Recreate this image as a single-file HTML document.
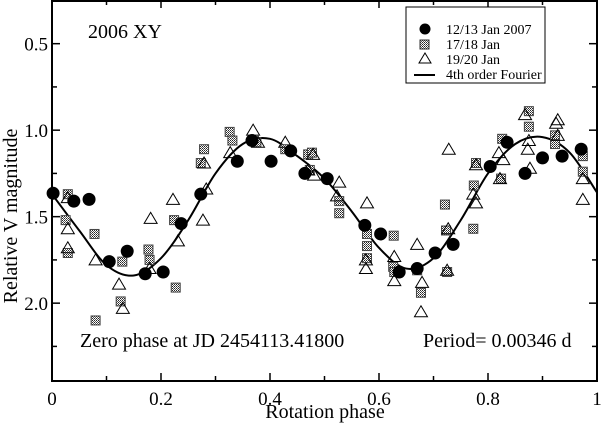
<!DOCTYPE html>
<html><head><meta charset="utf-8"><style>
body{margin:0;background:#fff}
svg{display:block;font-family:"Liberation Serif",serif}
</style></head><body>
<svg id="chart" width="601" height="424">
<defs>
<pattern id="stip" width="2" height="2" patternUnits="userSpaceOnUse">
<rect width="2" height="2" fill="#fff"/><rect width="1" height="1" fill="#222"/><rect x="1" y="1" width="1" height="1" fill="#555"/>
</pattern>
</defs>
<g id="plot"></g>
<text x="88" y="38" font-size="20">2006 XY</text>
<text x="80" y="347" font-size="20">Zero phase at JD 2454113.41800</text>
<text x="423" y="347" font-size="20">Period= 0.00346 d</text>
<text x="325" y="418" font-size="20" text-anchor="middle">Rotation phase</text>
<text transform="translate(17,216) rotate(-90)" font-size="20" text-anchor="middle">Relative V magnitude</text>
<g>
<rect x="406" y="7" width="139" height="76" fill="#fff" stroke="#000" stroke-width="1"/>
<circle cx="425" cy="29" r="5.5" fill="#000"/>
<text x="446" y="34" font-size="14">12/13 Jan 2007</text>
<rect x="420" y="40" width="9" height="9" fill="url(#stip)" stroke="#333"/>
<text x="446" y="49" font-size="14">17/18 Jan</text>
<path d="M425,53 L431,63 L419,63 Z" fill="none" stroke="#000"/>
<text x="446" y="64" font-size="14">19/20 Jan</text>
<line x1="414" y1="75" x2="435" y2="75" stroke="#000" stroke-width="2"/>
<text x="446" y="79" font-size="14">4th order Fourier</text>
</g>
</svg>
<script>
const circPhase=[0.002,0.04,0.068,0.105,0.138,0.171,0.204,0.237,0.273,0.34,0.367,0.402,0.438,0.464,0.505,0.574,0.603,0.637,0.67,0.703,0.736,0.804,0.835,0.868,0.90,0.936,0.971];
const circMag=[1.365,1.41,1.40,1.76,1.70,1.83,1.82,1.54,1.37,1.18,1.06,1.18,1.12,1.25,1.28,1.55,1.60,1.82,1.80,1.71,1.66,1.21,1.07,1.25,1.16,1.15,1.11];
const sqPhase=[0.029,0.025,0.029,0.078,0.08,0.129,0.126,0.177,0.179,0.224,0.227,0.279,0.273,0.326,0.331,0.375,0.428,0.47,0.477,0.473,0.527,0.527,0.578,0.578,0.578,0.627,0.626,0.628,0.67,0.677,0.721,0.723,0.725,0.773,0.774,0.778,0.826,0.824,0.875,0.875,0.923,0.923,0.974,0.974];
const sqMag=[1.37,1.52,1.71,1.60,2.10,1.76,1.99,1.69,1.75,1.52,1.91,1.11,1.19,1.01,1.06,1.07,1.11,1.14,1.13,1.23,1.41,1.48,1.60,1.67,1.74,1.61,1.79,1.82,1.81,1.94,1.43,1.58,1.82,1.57,1.32,1.19,1.05,1.28,0.89,0.98,1.03,1.08,1.15,1.24];
const triPhase=[0.029,0.029,0.029,0.08,0.123,0.13,0.181,0.179,0.222,0.231,0.279,0.283,0.277,0.327,0.369,0.378,0.428,0.47,0.479,0.481,0.527,0.523,0.578,0.576,0.576,0.628,0.628,0.67,0.679,0.677,0.728,0.727,0.725,0.773,0.778,0.778,0.82,0.828,0.822,0.868,0.873,0.875,0.877,0.925,0.928,0.928,0.974,0.974];
const triMag=[1.39,1.57,1.68,1.75,1.89,2.03,1.51,1.80,1.40,1.64,1.19,1.34,1.52,1.13,1.00,1.07,1.07,1.23,1.14,1.26,1.30,1.38,1.42,1.75,1.80,1.73,1.87,1.66,1.88,2.05,1.11,1.57,1.81,1.37,1.42,1.20,1.13,1.17,1.28,0.91,1.11,1.06,1.22,0.96,0.94,1.03,1.28,1.40];
const fitPhase=[0,0.05,0.1,0.15,0.2,0.25,0.3,0.35,0.4,0.45,0.5,0.55,0.6,0.65,0.7,0.75,0.8,0.85,0.9,0.95,1.0];
const fitMag=[1.37,1.58,1.78,1.84,1.74,1.52,1.25,1.08,1.05,1.15,1.28,1.47,1.68,1.80,1.74,1.52,1.25,1.08,1.04,1.13,1.36];
const xTicks=[0,0.2,0.4,0.6,0.8,1];
const xTickLabels=["0","0.2","0.4","0.6","0.8","1"];
const yTicks=[0.5,1.0,1.5,2.0];
const yTickLabels=["0.5","1.0","1.5","2.0"];

const L=52,R=597,T=0,B=381,XMIN=0,XMAX=1,YMIN=0.2475,YMAX=2.45;
const sx=v=>L+(v-XMIN)/(XMAX-XMIN)*(R-L);
const sy=v=>T+(v-YMIN)/(YMAX-YMIN)*(B-T);
const NS='http://www.w3.org/2000/svg';
const g=document.getElementById('plot');
function mk(tag,attrs){const e=document.createElementNS(NS,tag);for(const k in attrs)e.setAttribute(k,attrs[k]);g.appendChild(e);return e;}

let fr=mk('rect',{x:L,y:T+1,width:R-L,height:B-T-1,fill:'none',stroke:'#000','stroke-width':2});


for(let i=0;i<=10;i++){const v=i/10,x=sx(v),len=(i%2===0)?8:5;
 let t1=mk('line',{x1:x,y1:B,x2:x,y2:B-len,stroke:'#000','stroke-width':1.5});
 
 
 let t2=mk('line',{x1:x,y1:T,x2:x,y2:T+len,stroke:'#000','stroke-width':1.5});
 
 }
xTicks.forEach((v,i)=>{let t=mk('text',{x:sx(v),y:405,'font-size':19,'text-anchor':'middle'});t.textContent=xTickLabels[i];
 
 });
for(let v=0.25;v<=2.26;v+=0.25){const y=sy(v),maj=Math.abs(v*2-Math.round(v*2))<1e-6,len=maj?8:5;
 let t1=mk('line',{x1:L,y1:y,x2:L+len,y2:y,stroke:'#000','stroke-width':1.5});
 
 
 let t2=mk('line',{x1:R,y1:y,x2:R-len,y2:y,stroke:'#000','stroke-width':1.5});
 
 }
yTicks.forEach((v,i)=>{let t=mk('text',{x:48,y:sy(v)+7,'font-size':19,'text-anchor':'end'});t.textContent=yTickLabels[i];
 
 });

const pts=fitPhase.map((p,i)=>[sx(p),sy(fitMag[i])]);
let d='M'+pts[0][0]+','+pts[0][1];
for(let i=0;i<pts.length-1;i++){const p0=pts[Math.max(0,i-1)],p1=pts[i],p2=pts[i+1],p3=pts[Math.min(pts.length-1,i+2)];
 d+=' C'+(p1[0]+(p2[0]-p0[0])/6)+','+(p1[1]+(p2[1]-p0[1])/6)+' '+(p2[0]-(p3[0]-p1[0])/6)+','+(p2[1]-(p3[1]-p1[1])/6)+' '+p2[0]+','+p2[1];}
let fit=mk('path',{d:d,fill:'none',stroke:'#000','stroke-width':2});



sqPhase.forEach((p,i)=>{let r=mk('rect',{x:sx(p)-4.5,y:sy(sqMag[i])-4.5,width:9,height:9,fill:'url(#stip)',stroke:'#444','stroke-width':1});
 
 });
triPhase.forEach((p,i)=>{const x=sx(p),y=sy(triMag[i]);
 let t=mk('path',{d:`M${x},${y-6} L${x+6.5},${y+5} L${x-6.5},${y+5} Z`,fill:'none',stroke:'#000','stroke-width':1});
 
 });
circPhase.forEach((p,i)=>{let c=mk('circle',{cx:sx(p),cy:sy(circMag[i]),r:6.5,fill:'#000'});
 
 });
</script>
</body></html>
